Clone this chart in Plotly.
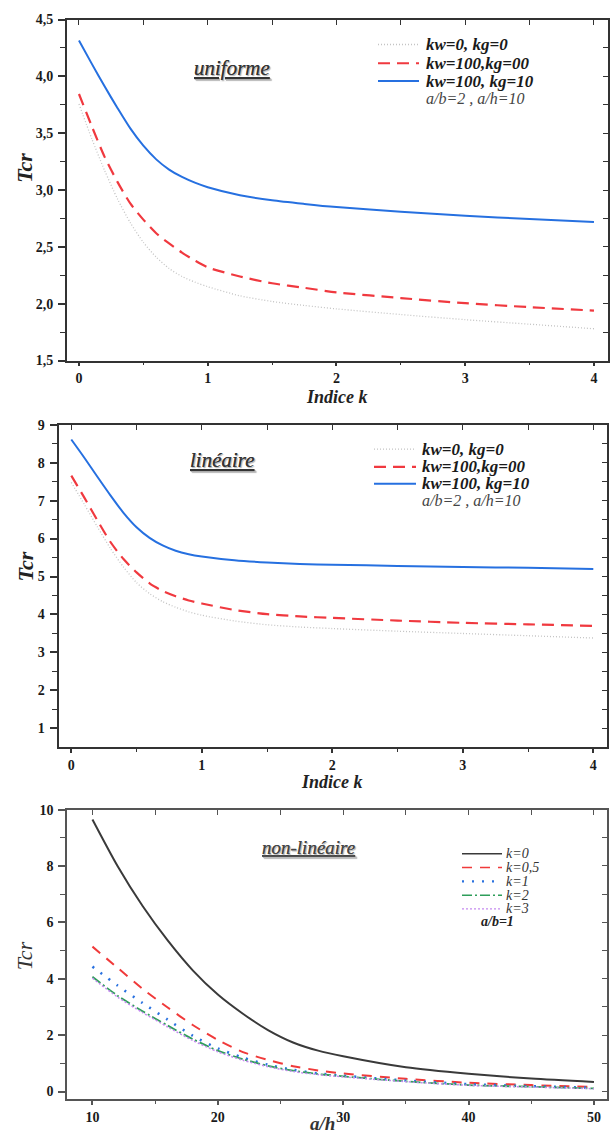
import plotly.graph_objects as go

# ---------------- data ----------------
# Panel 1 : "uniforme"  (Tcr vs Indice k)
k_vals = [0, 0.1, 0.2, 0.3, 0.4, 0.5, 0.6, 0.7, 0.8, 0.9, 1.0, 1.25, 1.5, 1.75, 2.0, 2.5, 3.0, 3.5, 4.0]
uni_kw0_kg0 = [3.757, 3.45, 3.17, 2.92, 2.71, 2.54, 2.41, 2.31, 2.24, 2.19, 2.15, 2.07, 2.02, 1.985, 1.955, 1.905, 1.86, 1.82, 1.78]
uni_kw100_kg0 = [3.845, 3.56, 3.29, 3.07, 2.88, 2.74, 2.62, 2.53, 2.45, 2.38, 2.32, 2.24, 2.18, 2.14, 2.10, 2.05, 2.005, 1.97, 1.94]
uni_kw100_kg10 = [4.315, 4.11, 3.91, 3.72, 3.54, 3.39, 3.27, 3.18, 3.115, 3.065, 3.025, 2.955, 2.91, 2.878, 2.85, 2.81, 2.775, 2.745, 2.72]

# Panel 2 : "linéaire"
lin_kw0_kg0 = [7.48, 6.90, 6.31, 5.74, 5.25, 4.84, 4.55, 4.34, 4.19, 4.07, 3.98, 3.83, 3.73, 3.67, 3.63, 3.56, 3.50, 3.44, 3.38]
lin_kw100_kg0 = [7.66, 7.08, 6.48, 5.91, 5.46, 5.11, 4.82, 4.62, 4.48, 4.37, 4.29, 4.12, 4.01, 3.95, 3.91, 3.84, 3.78, 3.74, 3.70]
lin_kw100_kg10 = [8.61, 8.13, 7.63, 7.14, 6.68, 6.30, 6.02, 5.82, 5.68, 5.59, 5.53, 5.43, 5.37, 5.33, 5.31, 5.28, 5.25, 5.23, 5.20]

# Panel 3 : "non-linéaire"  (Tcr vs a/h)
ah_vals = [10, 12, 14, 16, 18, 20, 22, 24, 26, 28, 30, 35, 40, 45, 50]
nl_k0 = [9.65, 8.00, 6.58, 5.36, 4.30, 3.44, 2.76, 2.18, 1.74, 1.45, 1.25, 0.86, 0.63, 0.46, 0.34]
nl_k05 = [5.14, 4.39, 3.64, 2.98, 2.36, 1.83, 1.40, 1.12, 0.90, 0.75, 0.64, 0.45, 0.31, 0.23, 0.16]
nl_k1 = [4.43, 3.76, 3.14, 2.55, 1.98, 1.53, 1.20, 0.95, 0.77, 0.64, 0.56, 0.39, 0.26, 0.19, 0.13]
nl_k2 = [4.07, 3.40, 2.85, 2.34, 1.86, 1.45, 1.15, 0.91, 0.74, 0.62, 0.54, 0.36, 0.23, 0.17, 0.11]
nl_k3 = [4.02, 3.35, 2.80, 2.29, 1.81, 1.41, 1.11, 0.88, 0.71, 0.60, 0.52, 0.35, 0.22, 0.16, 0.10]

# tick labels
x12_tickvals = [0, 1, 2, 3, 4]
x12_ticktext = ["0", "1", "2", "3", "4"]
y1_tickvals = [1.5, 2.0, 2.5, 3.0, 3.5, 4.0, 4.5]
y1_ticktext = ["1,5", "2,0", "2,5", "3,0", "3,5", "4,0", "4,5"]
y2_tickvals = [1, 2, 3, 4, 5, 6, 7, 8, 9]
y2_ticktext = ["1", "2", "3", "4", "5", "6", "7", "8", "9"]
x3_tickvals = [10, 20, 30, 40, 50]
x3_ticktext = ["10", "20", "30", "40", "50"]
y3_tickvals = [0, 2, 4, 6, 8, 10]
y3_ticktext = ["0", "2", "4", "6", "8", "10"]

legend12 = ["kw=0, kg=0", "kw=100,kg=00", "kw=100, kg=10"]
legend3 = ["k=0", "k=0,5", "k=1", "k=2", "k=3"]

# ---------------- styling ----------------
W, H = 610, 1140
SERIF = "Liberation Serif, Times New Roman, Times, DejaVu Serif, serif"
AX = "#333333"

GRAY = "#c4c4c4"
RED = "#f0393f"
BLUE = "#2670e0"
s12 = [
    dict(color=GRAY, width=1.3, dash="1px,2px"),
    dict(color=RED, width=2.2, dash="12px,7px"),
    dict(color=BLUE, width=2.0, dash="solid"),
]
s3 = [
    dict(color="#3a3a3a", width=2.0, dash="solid"),
    dict(color="#f03a3a", width=2.0, dash="10px,8px"),
    dict(color="#2a72e0", width=2.6, dash="2px,8px"),
    dict(color="#2e9e5a", width=1.8, dash="10px,3px,2px,3px"),
    dict(color="#c58af0", width=1.5, dash="2px,2px"),
]


def px(x):
    return x / W


def py(y):
    return 1 - y / H


fig = go.Figure()

series1 = [uni_kw0_kg0, uni_kw100_kg0, uni_kw100_kg10]
series2 = [lin_kw0_kg0, lin_kw100_kg0, lin_kw100_kg10]
series3 = [nl_k0, nl_k05, nl_k1, nl_k2, nl_k3]

for name, ys, st in zip(legend12, series1, s12):
    fig.add_trace(go.Scatter(x=k_vals, y=ys, mode="lines", name=name, line=dict(**st, shape="spline", smoothing=0.7),
                             xaxis="x", yaxis="y", showlegend=False))
for name, ys, st in zip(legend12, series2, s12):
    fig.add_trace(go.Scatter(x=k_vals, y=ys, mode="lines", name=name, line=dict(**st, shape="spline", smoothing=0.7),
                             xaxis="x2", yaxis="y2", showlegend=False))
for name, ys, st in zip(legend3, series3, s3):
    fig.add_trace(go.Scatter(x=ah_vals, y=ys, mode="lines", name=name, line=dict(**st, shape="spline", smoothing=0.7),
                             xaxis="x3", yaxis="y3", showlegend=False))

# empty traces to create overlay axes (inner ticks on top / right)
for xa, ya in [("x4", "y4"), ("x5", "y5"), ("x6", "y6")]:
    fig.add_trace(go.Scatter(x=[None], y=[None], xaxis=xa, yaxis=ya, showlegend=False, hoverinfo="skip"))

dom = {
    1: dict(x=[px(67), px(608)], y=[py(358.3), py(12.7)], xr=[-0.093, 4.109], yr=[1.5, 4.5]),
    2: dict(x=[px(58.5), px(607)], y=[py(750), py(423.3)], xr=[-0.098, 4.105], yr=[0.505, 9.0]),
    3: dict(x=[px(67), px(607)], y=[py(1107), py(813.3)], xr=[7.97, 51.04], yr=[-0.28, 10.0]),
}
tickfont = dict(family=SERIF, size=14, color="#1a1a1a", weight="bold")

axcfg = {
    1: dict(xtv=x12_tickvals, xtt=x12_ticktext, ytv=y1_tickvals, ytt=y1_ticktext, xm=0.5, ym=0.25),
    2: dict(xtv=x12_tickvals, xtt=x12_ticktext, ytv=y2_tickvals, ytt=y2_ticktext, xm=0.5, ym=0.5),
    3: dict(xtv=x3_tickvals, xtt=x3_ticktext, ytv=y3_tickvals, ytt=y3_ticktext, xm=5, ym=1),
}

layout_axes = {}
for i in (1, 2, 3):
    d = dom[i]
    c = axcfg[i]
    sx = "" if i == 1 else str(i)
    lw = 1.8 if i < 3 else 1.5
    lc = AX if i < 3 else "#555555"
    layout_axes["xaxis" + sx] = dict(
        domain=d["x"], range=d["xr"], anchor="y" + sx, showgrid=False, zeroline=False,
        showline=True, mirror=True, linecolor=lc, linewidth=lw,
        tickmode="array", tickvals=c["xtv"], ticktext=c["xtt"], ticks="outside", ticklen=4,
        tickwidth=1.5, tickcolor=lc, tickfont=tickfont, ticklabelstandoff=0,
        minor=dict(ticks="outside", dtick=c["xm"], tick0=0, ticklen=3, tickwidth=1.2, tickcolor=lc),
    )
    layout_axes["yaxis" + sx] = dict(
        domain=d["y"], range=d["yr"], anchor="x" + sx, showgrid=False, zeroline=False,
        showline=True, mirror=True, linecolor=lc, linewidth=lw,
        tickmode="array", tickvals=c["ytv"], ticktext=c["ytt"], ticks="outside", ticklen=7,
        tickwidth=1.5, tickcolor=lc, tickfont=tickfont, ticklabelstandoff=2,
        minor=dict(ticks="outside", dtick=c["ym"], tick0=0, ticklen=5, tickwidth=1.2, tickcolor=lc),
    )
    o = str(i + 3)
    layout_axes["xaxis" + o] = dict(
        domain=d["x"], range=d["xr"], overlaying="x" + sx, side="top", anchor="y" + o,
        showgrid=False, zeroline=False, showline=False, showticklabels=False,
        ticks="inside", tickmode="linear", tick0=0, dtick=c["xm"], ticklen=5, tickwidth=1.3, tickcolor=lc,
    )
    layout_axes["yaxis" + o] = dict(
        domain=d["y"], range=d["yr"], overlaying="y" + sx, side="right", anchor="x" + o,
        showgrid=False, zeroline=False, showline=False, showticklabels=False,
        ticks="inside", tickmode="linear", tick0=0, dtick=c["ym"], ticklen=5, tickwidth=1.3, tickcolor=lc,
    )

annotations = []
shapes = []


def text(x, y, t, size, weight="normal", style="normal", color="#222222", xanchor="center", textangle=0, **kw):
    annotations.append(dict(
        x=px(x), y=py(y), xref="paper", yref="paper", text=t, showarrow=False,
        xanchor=xanchor, yanchor="middle", textangle=textangle,
        font=dict(family=SERIF, size=size, weight=weight, style=style, color=color, **kw),
    ))


# axis titles
text(25, 163, "Tcr", 22, "bold", "italic", textangle=-90)
text(337, 395, "Indice k", 18, "bold", "italic")
text(26, 567, "Tcr", 22, "bold", "italic", textangle=-90)
text(332, 785, "Indice k", 18, "bold", "italic")
text(24, 962, "Tcr", 22, "normal", "italic", color="#333333", textangle=-90)
text(322, 1131, "a/h", 19, "bold", "italic", color="#333333")

# panel labels (underlined)
sh = "1px 1px 1px #bbbbbb"
text(232, 62, "uniforme", 21, "normal", "italic", color="#333333", lineposition="under", shadow=sh)
text(222, 459, "linéaire", 21, "normal", "italic", color="#333333", lineposition="under", shadow=sh)
text(308, 852, "non-linéaire", 19, "normal", "italic", color="#444444", lineposition="under", shadow=sh)

# legends panels 1 & 2
for (x0, x1, xt, ys, yab) in [(378, 419, 424, [38, 57, 75], 93), (374, 416, 420, [448, 466, 483], 500)]:
    for name, st, y in zip(legend12, s12, ys):
        shapes.append(dict(type="line", xref="paper", yref="paper", x0=px(x0), x1=px(x1), y0=py(y), y1=py(y),
                           line=dict(color=st["color"], width=st["width"], dash=st["dash"])))
        text(xt, y, name, 17, "bold", "italic", color="#1a1a1a", xanchor="left")
    text(xt, yab, "a/b=2 , a/h=10", 16, "normal", "italic", color="#444444", xanchor="left")

# legend panel 3
for name, st, y in zip(legend3, s3, [858, 872, 886, 900, 914]):
    shapes.append(dict(type="line", xref="paper", yref="paper", x0=px(462), x1=px(502), y0=py(y), y1=py(y),
                       line=dict(color=st["color"], width=st["width"] * 0.8, dash=st["dash"])))
    text(504, y, name, 14, "normal", "italic", color="#333333", xanchor="left")
text(498, 927, "a/b=1", 14, "bold", "italic", color="#222222")

fig.update_layout(
    width=W, height=H, margin=dict(l=0, r=0, t=0, b=0),
    paper_bgcolor="white", plot_bgcolor="white",
    showlegend=False, annotations=annotations, shapes=shapes,
    **layout_axes,
)

fig.write_html("out.html", config={"displayModeBar": False},
               post_script="document.body.style.margin='0';document.body.style.padding='0';")
